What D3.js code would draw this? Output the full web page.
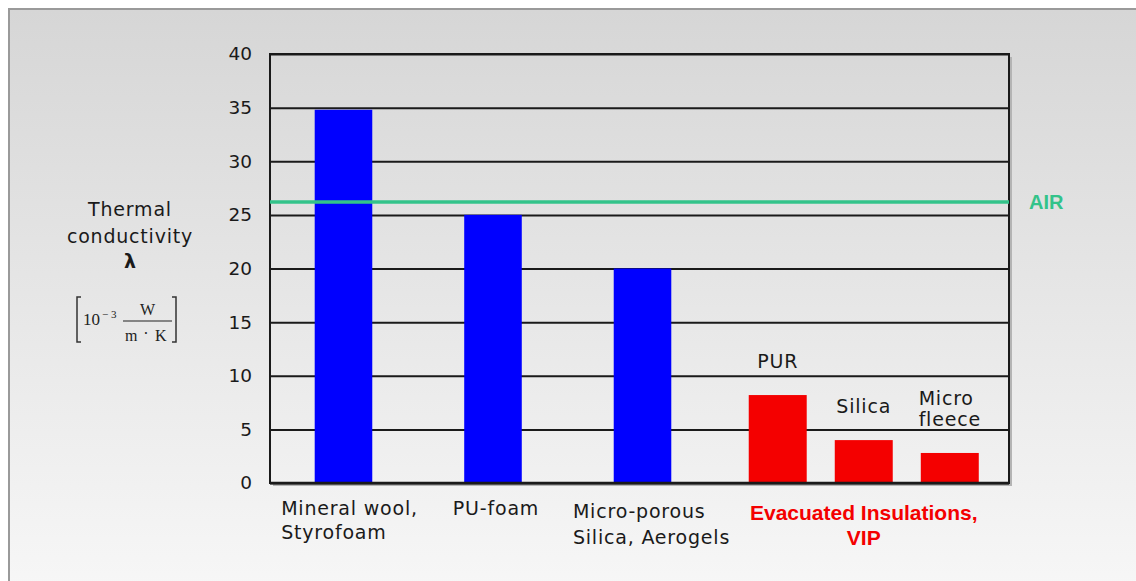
<!DOCTYPE html>
<html>
<head>
<meta charset="utf-8">
<script src="https://cdn.jsdelivr.net/npm/d3@7"></script>
<style>
  html, body { margin: 0; padding: 0; background: #ffffff; }
  svg { display: block; }
</style>
</head>
<body>
<svg id="chart" width="1136" height="581"></svg>
<script>
// Thermal conductivity of insulation materials, in 10^-3 W/(m·K)
const conventionalNames  = ["Mineral wool, Styrofoam", "PU-foam", "Micro-porous Silica, Aerogels"];
const conventionalLines  = [["Mineral wool,", "Styrofoam"], ["PU-foam"], ["Micro-porous", "Silica, Aerogels"]];
const conventionalValues = [34.8, 25.0, 20.0];

const evacuatedNames  = ["PUR", "Silica", "Micro fleece"];
const evacuatedLines  = [["PUR"], ["Silica"], ["Micro", "fleece"]];
const evacuatedValues = [8.2, 4.0, 2.8];
const evacuatedGroupLines = ["Evacuated Insulations,", "VIP"];

const airLabel = "AIR";
const airValue = 26.2;

const yTicks = [0, 5, 10, 15, 20, 25, 30, 35, 40];
const yTitleLines = ["Thermal", "conductivity", "λ"];

// ---- layout ----
const W = 1136, H = 581;
const plot = { left: 270, right: 1009, top: 54, bottom: 483 };
const plotW = plot.right - plot.left;
const splitFrac = 0.6035;                     // share of the plot used by the conventional group
const splitX = plot.left + plotW * splitFrac;
const labelNudge = [6, 3, 9];                 // horizontal nudge of each conventional label block

const sansFont = "'DejaVu Sans', sans-serif";
const boldFont = "'Liberation Sans', Arial, sans-serif";
const serifFont = "'Liberation Serif', 'Times New Roman', serif";
const ink = "#1a1a1a";
const blue = "#0000ff", red = "#f40000", green = "#33c38a";

const svg = d3.select("#chart");

// background panel with soft vertical gradient
const defs = svg.append("defs");
const grad = defs.append("linearGradient").attr("id", "bg").attr("x1", 0).attr("y1", 0).attr("x2", 0).attr("y2", 1);
grad.append("stop").attr("offset", "0%").attr("stop-color", "#d6d6d6");
grad.append("stop").attr("offset", "100%").attr("stop-color", "#f8f8f8");

svg.append("rect").attr("width", W).attr("height", H).attr("fill", "#ffffff");
svg.append("rect")
  .attr("x", 9).attr("y", 9).attr("width", W + 20).attr("height", H + 20)
  .attr("fill", "url(#bg)").attr("stroke", "#9a9a9a").attr("stroke-width", 2);

// ---- scales ----
const y = d3.scaleLinear().domain([0, 40]).range([plot.bottom, plot.top]);

const xConv = d3.scaleBand().domain(conventionalNames)
  .range([plot.left, splitX]).paddingInner(0.615).paddingOuter(0.299);
const xEvac = d3.scaleBand().domain(evacuatedNames)
  .range([splitX, plot.right]).paddingInner(0.326).paddingOuter(0.366).align(0.52);

// ---- frame shadow ----
svg.append("path")
  .attr("d", `M${plot.right + 2},${plot.top + 3}V${plot.bottom + 2}H${plot.left + 3}`)
  .attr("fill", "none").attr("stroke", "#b4b4b4").attr("stroke-width", 2);

// ---- gridlines ----
const grid = svg.append("g")
  .attr("transform", `translate(${plot.left},0)`)
  .call(d3.axisLeft(y).tickValues(yTicks).tickSize(-plotW).tickFormat(""));
grid.select(".domain").remove();
grid.selectAll("line").attr("stroke", ink).attr("stroke-width", 2);

// ---- y tick labels ----
const yAxis = svg.append("g")
  .attr("transform", `translate(${plot.left},0)`)
  .call(d3.axisLeft(y).tickValues(yTicks).tickSize(0).tickPadding(18));
yAxis.select(".domain").remove();
yAxis.selectAll("text")
  .attr("font-family", sansFont).attr("font-size", 18.5).attr("fill", ink);

// ---- bars ----
svg.append("g").selectAll("rect")
  .data(conventionalNames.map((n, i) => ({ n, v: conventionalValues[i] })))
  .join("rect")
  .attr("x", d => xConv(d.n)).attr("width", xConv.bandwidth())
  .attr("y", d => y(d.v)).attr("height", d => y(0) - y(d.v))
  .attr("fill", blue);

svg.append("g").selectAll("rect")
  .data(evacuatedNames.map((n, i) => ({ n, v: evacuatedValues[i] })))
  .join("rect")
  .attr("x", d => xEvac(d.n)).attr("width", xEvac.bandwidth())
  .attr("y", d => y(d.v)).attr("height", d => y(0) - y(d.v) + 1)
  .attr("fill", red);

// ---- plot frame ----
svg.append("rect")
  .attr("x", plot.left).attr("y", plot.top)
  .attr("width", plotW).attr("height", plot.bottom - plot.top)
  .attr("fill", "none").attr("stroke", ink).attr("stroke-width", 2);
svg.append("line")
  .attr("x1", plot.left).attr("x2", plot.right)
  .attr("y1", y(0)).attr("y2", y(0))
  .attr("stroke", ink).attr("stroke-width", 2.5);

// ---- air reference line ----
svg.append("line")
  .attr("x1", plot.left).attr("x2", plot.right)
  .attr("y1", y(airValue)).attr("y2", y(airValue))
  .attr("stroke", green).attr("stroke-width", 3.5);
svg.append("text")
  .attr("x", plot.right + 20).attr("y", y(airValue)).attr("dy", "0.36em")
  .attr("font-family", boldFont).attr("font-weight", "bold").attr("font-size", 20)
  .attr("fill", green).text(airLabel);

// ---- category labels (left-aligned blocks) ----
function blockLabel(g, lines, cx, baseline, lh) {
  const t = g.append("text").attr("font-family", sansFont).attr("font-size", 19)
    .attr("letter-spacing", 0.8).attr("fill", ink);
  lines.forEach((s, i) => t.append("tspan").attr("x", 0).attr("y", baseline + i * lh).text(s));
  const w = t.node().getBBox().width;
  t.attr("transform", `translate(${cx - w / 2},0)`);
  return t;
}
const labelsG = svg.append("g");
conventionalNames.forEach((n, i) => {
  const cx = xConv(n) + xConv.bandwidth() / 2 + labelNudge[i];
  blockLabel(labelsG, conventionalLines[i], cx, 515 + (i === 2 ? 3 : 0), 24 + (i === 2 ? 2 : 0));
});

// sub-labels above the evacuated bars
evacuatedNames.forEach((n, i) => {
  const cx = xEvac(n) + xEvac.bandwidth() / 2;
  const lines = evacuatedLines[i];
  const last = y(evacuatedValues[i]) - 27;
  blockLabel(labelsG, lines, cx, last - (lines.length - 1) * 21, 21);
});

// evacuated group label
const evacCx = (xEvac(evacuatedNames[0]) + xEvac(evacuatedNames[2]) + xEvac.bandwidth()) / 2;
const evacText = svg.append("text")
  .attr("font-family", boldFont).attr("font-weight", "bold").attr("font-size", 21)
  .attr("fill", red).attr("text-anchor", "middle");
evacuatedGroupLines.forEach((s, i) =>
  evacText.append("tspan").attr("x", evacCx).attr("y", 520 + i * 25).text(s));

// ---- y-axis title ----
const titleX = 130;
yTitleLines.forEach((s, i) => {
  svg.append("text")
    .attr("x", titleX).attr("y", [216, 243, 268][i])
    .attr("text-anchor", "middle")
    .attr("font-family", sansFont).attr("font-size", 19)
    .attr("letter-spacing", i < 2 ? 0.8 : 0)
    .attr("font-weight", i === 2 ? "bold" : "normal")
    .attr("fill", ink).text(s);
});

// unit: [10^-3 W / (m · K)]
const unit = svg.append("g").attr("fill", "#222").attr("font-family", serifFont);
const brTop = 297, brBot = 342;
unit.append("path")
  .attr("d", `M81,${brTop}H77V${brBot}H81 M172,${brTop}H176V${brBot}H172`)
  .attr("fill", "none").attr("stroke", "#333").attr("stroke-width", 1.5);
unit.append("text").attr("x", 83).attr("y", 325).attr("font-size", 17).text("10");
unit.append("text").attr("x", 102).attr("y", 318).attr("font-size", 11).text("− 3");
unit.append("line").attr("x1", 123).attr("x2", 172).attr("y1", 321).attr("y2", 321)
  .attr("stroke", "#222").attr("stroke-width", 1.2);
unit.append("text").attr("x", 147.5).attr("y", 315).attr("font-size", 16)
  .attr("text-anchor", "middle").text("W");
unit.append("text").attr("x", 125).attr("y", 341).attr("font-size", 16).text("m");
unit.append("text").attr("x", 146).attr("y", 339).attr("font-size", 16)
  .attr("text-anchor", "middle").text("·");
unit.append("text").attr("x", 155).attr("y", 341).attr("font-size", 16).text("K");
</script>
</body>
</html>
